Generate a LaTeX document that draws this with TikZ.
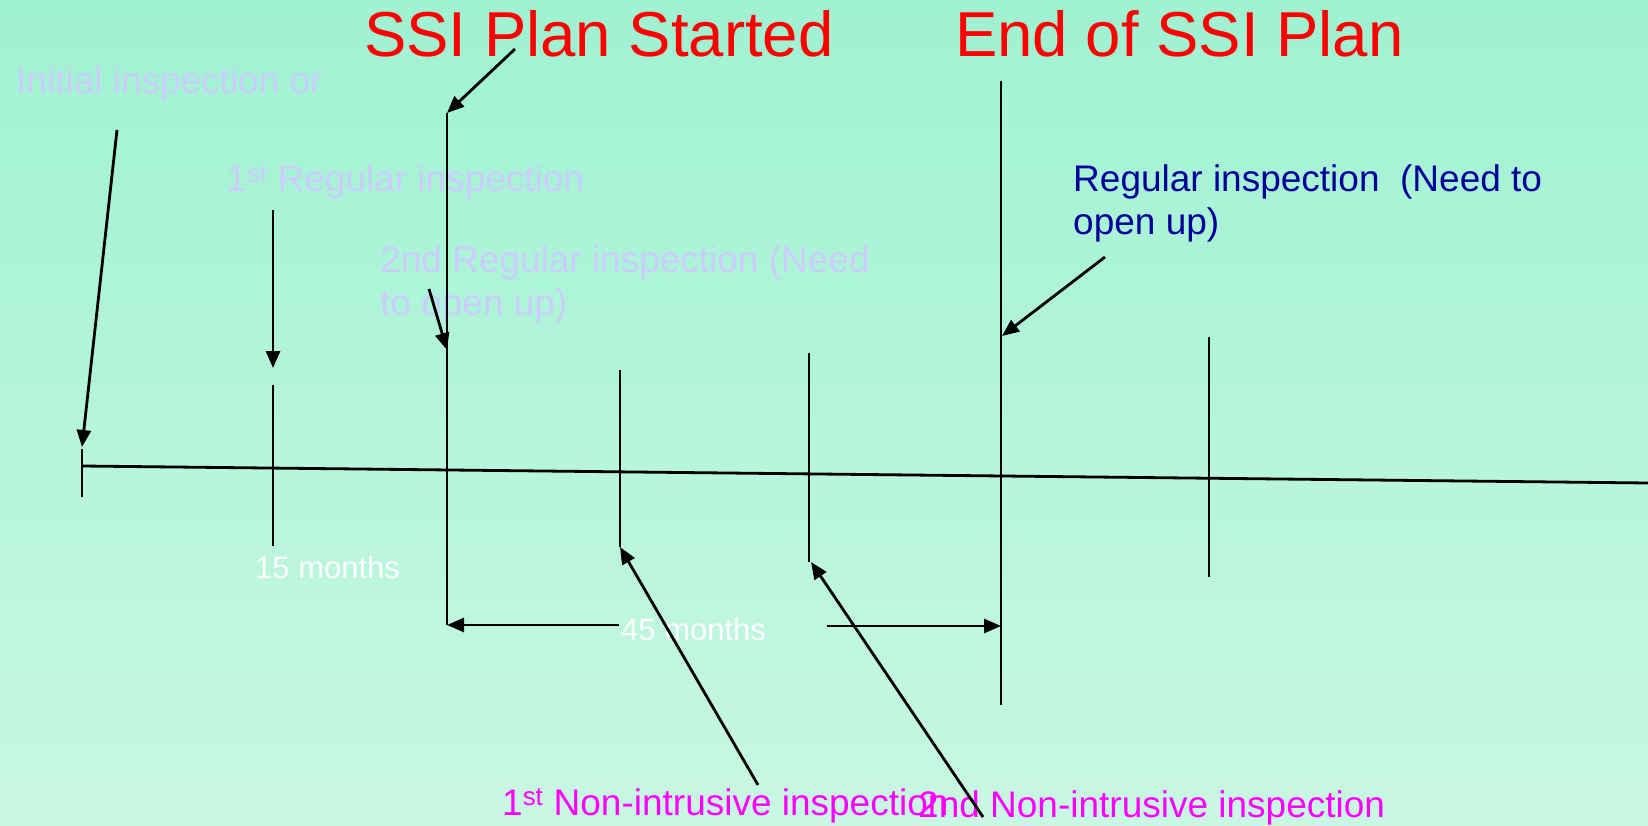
\documentclass[tikz,border=0pt]{standalone}
\usepackage{fontspec}
\setmainfont{Liberation Sans}
\usetikzlibrary{arrows.meta}
\definecolor{bgtop}{RGB}{159,242,210}
\definecolor{bgbot}{RGB}{201,247,227}
\definecolor{lav}{RGB}{204,204,255}
\definecolor{navy}{RGB}{0,0,153}
\definecolor{mag}{RGB}{255,0,255}
\definecolor{titlered}{RGB}{255,0,0}
\tikzset{
  ln/.style={line width=2.8pt, black},
  arr/.style={line width=2.8pt, black, -{Triangle[length=17pt,width=14pt]}},
  txt/.style={inner sep=0pt, anchor=base west, align=left},
  titletxt/.style={txt, text=titlered, font=\fontsize{63.5}{70}\selectfont},
  lavtxt/.style={txt, text=lav, font=\fontsize{37}{43}\selectfont},
  navytxt/.style={txt, text=navy, font=\fontsize{37}{43}\selectfont},
  magtxt/.style={txt, text=mag, font=\fontsize{37}{43}\selectfont},
  whitetxt/.style={txt, text=white, font=\fontsize{31}{36}\selectfont}
}
\begin{document}
\begin{tikzpicture}[x=1pt,y=-1pt]
\useasboundingbox (0,0) rectangle (1648,826);
\shade[top color=bgtop, bottom color=bgbot] (0,0) rectangle (1648,826);

% texts (base anchor = baseline of last line)
\node[titletxt] (tstart) at (364,57) {SSI Plan Started};
\node[titletxt] (tend) at (955,57) {End of SSI Plan};
\node[lavtxt] (tinit) at (16,94) {Initial inspection or};
\node[lavtxt] (treg1) at (226,192) {1\textsuperscript{st} Regular inspection};
\node[lavtxt] (treg2) at (380,315) {2nd Regular inspection (Need\\to open up)};
\node[navytxt] (treg3) at (1073,235) {Regular inspection\ \ (Need to\\open up)};
\node[whitetxt] (t15) at (255,578) {15 months};
\node[whitetxt] (t45) at (621,640) {45 months};
\node[magtxt] (tni1) at (502,815) {1\textsuperscript{st} Non-intrusive inspection};
\node[magtxt] (tni2) at (918,817) {2nd Non-intrusive inspection};

% timeline
\coordinate (tlA) at (82,466);
\coordinate (tlB) at (1648,483);
\draw[ln] (tlA) -- (tlB);

% ticks
\coordinate (k0a) at (82,449); \coordinate (k0b) at (82,497);
\coordinate (k1u) at (273,210); \coordinate (k1t) at (273,368);
\coordinate (k1a) at (273,385); \coordinate (k1b) at (273,546);
\coordinate (ssiA) at (447,113); \coordinate (ssiB) at (447,625);
\coordinate (k3a) at (620,370); \coordinate (k3b) at (620,547);
\coordinate (k4a) at (809,353); \coordinate (k4b) at (809,562);
\coordinate (endA) at (1001,81); \coordinate (endB) at (1001,705);
\coordinate (k6a) at (1209,337); \coordinate (k6b) at (1209,577);
\draw[ln] (k0a) -- (k0b);
\draw[arr] (k1u) -- (k1t);
\draw[ln] (k1a) -- (k1b);
\draw[ln] (ssiA) -- (ssiB);
\draw[ln] (k3a) -- (k3b);
\draw[ln] (k4a) -- (k4b);
\draw[ln] (endA) -- (endB);
\draw[ln] (k6a) -- (k6b);

% pointer arrows
\coordinate (pInit) at (117,130); \coordinate (pInitT) at (82,447);
\coordinate (pStart) at (515,49);
\coordinate (pReg2) at (429,289); \coordinate (pReg2T) at (447,350);
\coordinate (pReg3) at (1105,257); \coordinate (pReg3T) at (1002,336);
\coordinate (pNi1) at (758,785);
\coordinate (pNi2) at (983,817); \coordinate (pNi2T) at (811,562);
\draw[arr] (pInit) -- (pInitT);
\draw[arr] (pStart) -- (ssiA);
\draw[arr] (pReg2) -- (pReg2T);
\draw[arr] (pReg3) -- (pReg3T);
\draw[arr] (pNi1) -- (k3b);
\draw[arr] (pNi2) -- (pNi2T);

% 45 months dimension
\coordinate (d45a) at (619,625); \coordinate (d45aT) at (447,625);
\coordinate (d45b) at (827,626); \coordinate (d45bT) at (1001,626);
\draw[arr] (d45a) -- (d45aT);
\draw[arr] (d45b) -- (d45bT);
\end{tikzpicture}
\end{document}
